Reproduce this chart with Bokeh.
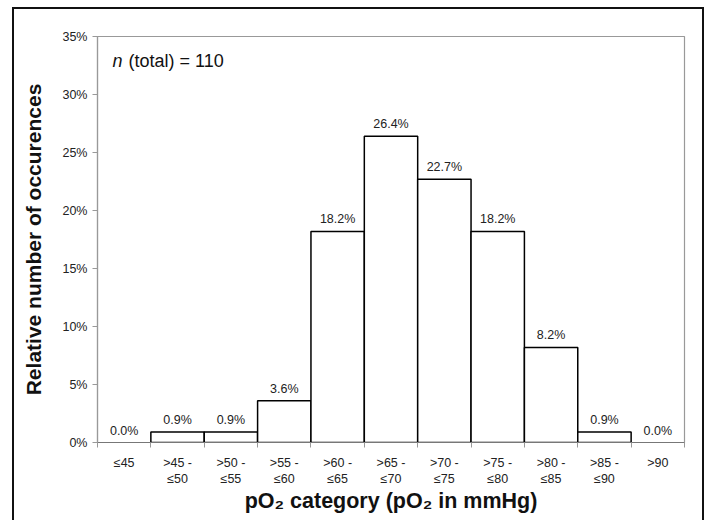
from bokeh.plotting import figure
from bokeh.models import ColumnDataSource, FixedTicker, NumeralTickFormatter, Range1d
from bokeh.core.properties import value
from bokeh.embed import file_html
from bokeh.resources import INLINE

# ---- data ----
categories = ["\u226445", ">45 -\n\u226450", ">50 -\n\u226455", ">55 -\n\u226460", ">60 -\n\u226465",
              ">65 -\n\u226470", ">70 -\n\u226475", ">75 -\n\u226480", ">80 -\n\u226485",
              ">85 -\n\u226490", ">90"]
percent = [0.0, 0.9, 0.9, 3.6, 18.2, 26.4, 22.7, 18.2, 8.2, 0.9, 0.0]
y_ticks = [0, 0.05, 0.10, 0.15, 0.20, 0.25, 0.30, 0.35]
n_total = 110

FONT = "Liberation Sans"

xs = [i + 0.5 for i in range(len(categories))]
frac = [v / 100.0 for v in percent]
src = ColumnDataSource(dict(
    x=xs, top=frac, lbl=["%.1f%%" % v for v in percent],
    la=[1.0 if v > 0 else 0.0 for v in percent],
))

p = figure(width=692, height=513, output_backend="svg", toolbar_location=None,
           x_range=Range1d(0, len(categories)), y_range=Range1d(0, 0.35),
           min_border_left=83, min_border_right=22, min_border_top=27, min_border_bottom=80,
           styles={"border": "2px solid #111", "border-bottom": "none",
                   "margin-left": "12px", "margin-top": "7px"})

p.vbar(x="x", top="top", bottom=0, width=1.0, source=src,
       fill_color="white", line_color="black", line_width=1.5, line_alpha="la")
p.text(x="x", y="top", text="lbl", source=src, text_align="center", text_baseline="bottom",
       y_offset=-5, text_font=value(FONT), text_font_size="12.5px", text_color="#222")

# n (total) annotation
p.text(x=[0.28], y=[0.329], text=["n"], text_font=value(FONT), text_font_style="italic",
       text_font_size="18px", text_baseline="middle", text_color="#111")
p.text(x=[0.58], y=[0.329], text=["(total) = %d" % n_total], text_font=value(FONT),
       text_font_size="18px", text_baseline="middle", text_color="#111")

p.grid.visible = False
p.outline_line_color = "#999999"
p.outline_line_width = 1.2
p.background_fill_color = "white"
p.border_fill_color = "white"

# x axis
xa = p.xaxis[0]
xa.ticker = FixedTicker(ticks=xs, minor_ticks=list(range(len(categories) + 1)))
xa.major_label_overrides = {x: c for x, c in zip(xs, categories)}
xa.major_tick_out = 0
xa.major_tick_in = 0
xa.minor_tick_out = 5
xa.minor_tick_in = 0
xa.minor_tick_line_color = "#999999"
xa.axis_line_color = "#777777"
xa.axis_line_width = 1.2
xa.major_label_standoff = 8
xa.major_label_text_font = FONT
xa.major_label_text_font_size = "12.5px"
xa.major_label_text_color = "#222"
xa.axis_label = "pO\u2082 category (pO\u2082 in mmHg)"
xa.axis_label_text_font = FONT
xa.axis_label_text_font_style = "bold"
xa.axis_label_text_font_size = "21.5px"
xa.axis_label_text_color = "#111"
xa.axis_label_standoff = 0

# y axis
ya = p.yaxis[0]
ya.ticker = FixedTicker(ticks=y_ticks, minor_ticks=[])
ya.formatter = NumeralTickFormatter(format="0%")
ya.major_tick_out = 5
ya.major_tick_in = 0
ya.major_tick_line_color = "#999999"
ya.minor_tick_line_color = None
ya.axis_line_color = "#999999"
ya.axis_line_width = 1.2
ya.major_label_standoff = 5
ya.major_label_text_font = FONT
ya.major_label_text_font_size = "12.5px"
ya.major_label_text_color = "#222"
ya.axis_label = "Relative number of occurences"
ya.axis_label_text_font = FONT
ya.axis_label_text_font_style = "bold"
ya.axis_label_text_font_size = "21px"
ya.axis_label_text_color = "#111"
ya.axis_label_standoff = 14

open("out.html", "w").write(file_html(p, INLINE))
